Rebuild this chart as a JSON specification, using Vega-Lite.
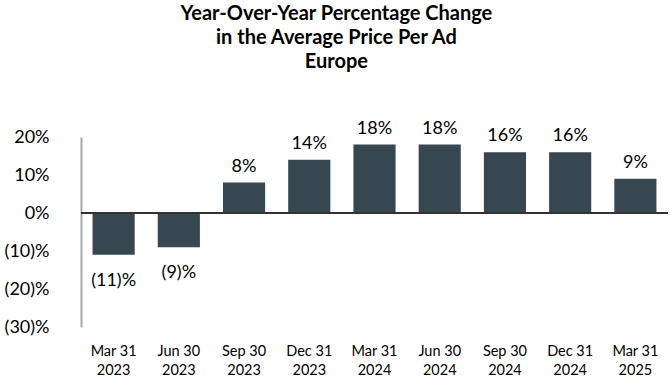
{
  "$schema": "https://vega.github.io/schema/vega-lite/v6.json",
  "width": 587,
  "height": 190,
  "autosize": "none",
  "padding": {"left": 81, "top": 137, "right": 4, "bottom": 57},
  "background": "white",
  "title": {
    "text": ["Year-Over-Year Percentage Change", "in the Average Price Per Ad", "Europe"],
    "font": "Lato",
    "fontSize": 20,
    "fontWeight": "bold",
    "color": "#000000",
    "lineHeight": 24,
    "anchor": "middle",
    "frame": "bounds",
    "offset": 48
  },
  "config": {
    "view": {"stroke": null},
    "font": "Lato",
    "axis": {"labelOverlap": false}
  },
  "data": {
    "values": [
      {"period": "Mar 31 2023", "change": -11, "label": "(11)%"},
      {"period": "Jun 30 2023", "change": -9, "label": "(9)%"},
      {"period": "Sep 30 2023", "change": 8, "label": "8%"},
      {"period": "Dec 31 2023", "change": 14, "label": "14%"},
      {"period": "Mar 31 2024", "change": 18, "label": "18%"},
      {"period": "Jun 30 2024", "change": 18, "label": "18%"},
      {"period": "Sep 30 2024", "change": 16, "label": "16%"},
      {"period": "Dec 31 2024", "change": 16, "label": "16%"},
      {"period": "Mar 31 2025", "change": 9, "label": "9%"}
    ]
  },
  "encoding": {
    "x": {
      "field": "period",
      "type": "nominal",
      "sort": null,
      "scale": {"paddingInner": 0.354, "paddingOuter": 0.177},
      "axis": {
        "title": null,
        "domain": false,
        "ticks": false,
        "labelAngle": 0,
        "labelPadding": 17,
        "labelFont": "Lato",
        "labelFontSize": 14.5,
        "labelColor": "#000000",
        "labelLineHeight": 19,
        "labelExpr": "[slice(datum.label, 0, 6), slice(datum.label, 7)]"
      }
    },
    "y": {
      "field": "change",
      "type": "quantitative",
      "scale": {"domain": [-30, 20], "nice": false},
      "axis": {
        "title": null,
        "values": [-30, -20, -10, 0, 10, 20],
        "grid": false,
        "ticks": false,
        "domain": true,
        "domainColor": "#a6a6a6",
        "domainWidth": 2,
        "labelPadding": 32,
        "labelFont": "Lato",
        "labelFontSize": 18,
        "labelColor": "#000000",
        "labelOverlap": false,
        "labelBound": false,
        "labelFlush": false,
        "labelExpr": "datum.value < 0 ? '(' + abs(datum.value) + ')%' : datum.value + '%'"
      }
    }
  },
  "layer": [
    {
      "mark": {"type": "bar", "color": "#36474f"}
    },
    {
      "mark": {"type": "rule", "color": "#333333", "strokeWidth": 1.5},
      "encoding": {"y": {"datum": 0}, "x": {"value": 0}, "x2": {"value": 587}}
    },
    {
      "transform": [{"filter": "datum.change >= 0"}],
      "mark": {"type": "text", "baseline": "alphabetic", "dy": -11, "font": "Lato", "fontSize": 18, "color": "#000000"},
      "encoding": {
        "text": {"field": "label", "type": "nominal"}
      }
    },
    {
      "transform": [{"filter": "datum.change < 0"}],
      "mark": {"type": "text", "baseline": "top", "dy": 17, "font": "Lato", "fontSize": 18, "color": "#000000"},
      "encoding": {
        "text": {"field": "label", "type": "nominal"}
      }
    }
  ]
}
